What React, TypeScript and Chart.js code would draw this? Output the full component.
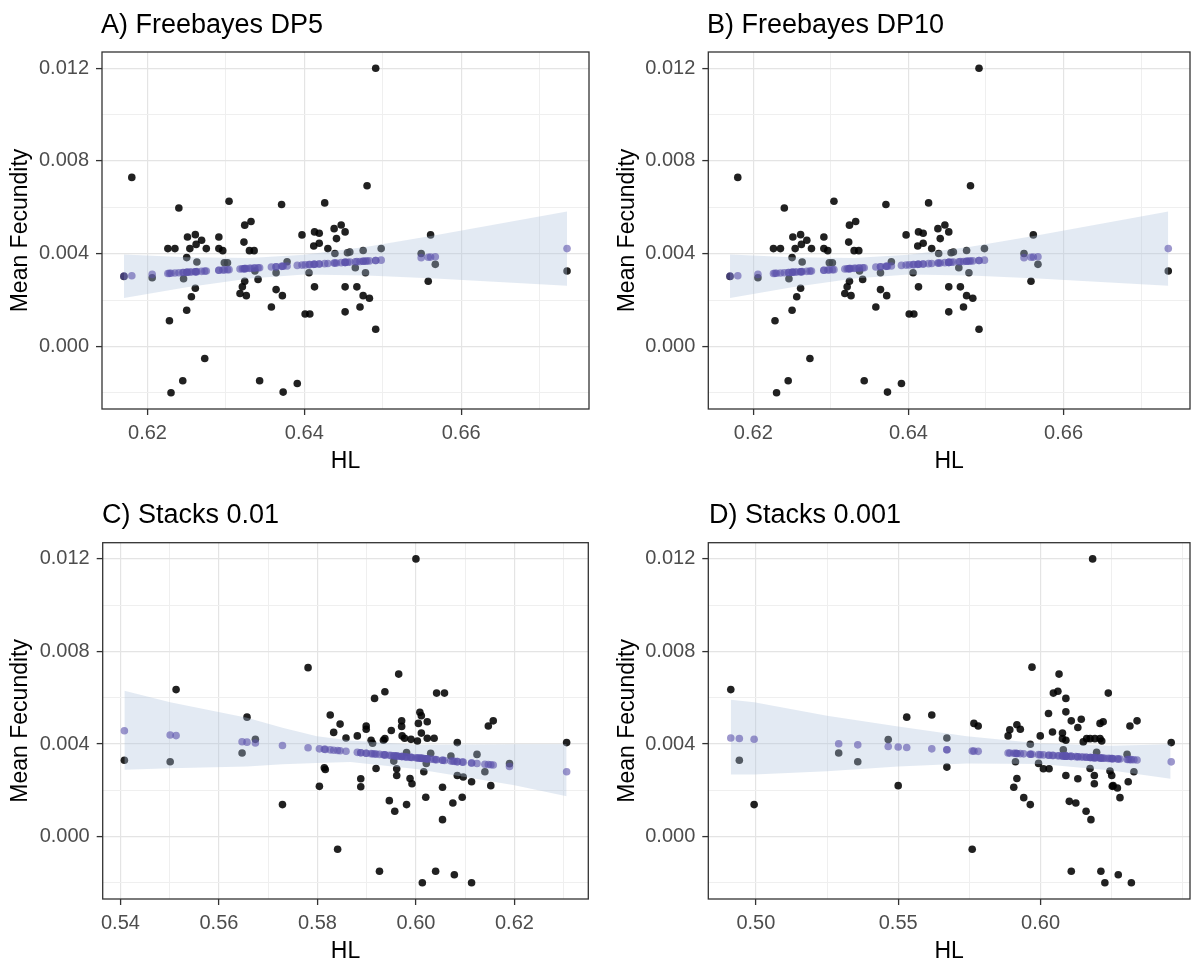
import React, { useEffect, useRef } from "react";
import { Chart, registerables } from "chart.js";
Chart.register(...registerables);

// ---------- Freebayes (DP5 and DP10 show the same values) ----------
const fbHL = [
  0.6180, 0.6240, 0.6304, 0.6371, 0.6426, 0.6226, 0.6235, 0.6251, 0.6261, 0.6269,
  0.6262, 0.6254, 0.6275, 0.6291, 0.6291, 0.6296, 0.6324, 0.6332, 0.6323, 0.6330,
  0.6336, 0.6397, 0.6413, 0.6419, 0.6412, 0.6419, 0.6430, 0.6438, 0.6447, 0.6452,
  0.6441, 0.6250, 0.6263, 0.6206, 0.6246, 0.6261, 0.6256, 0.6250, 0.6228, 0.6273,
  0.6245, 0.6230, 0.6298, 0.6302, 0.6324, 0.6321, 0.6318, 0.6326, 0.6341, 0.6337,
  0.6364, 0.6364, 0.6372, 0.6358, 0.6343, 0.6373, 0.6391, 0.6378, 0.6406, 0.6413,
  0.6401, 0.6407, 0.6452, 0.6452, 0.6455, 0.6439, 0.6491, 0.6480, 0.6561, 0.6458,
  0.6475, 0.6498, 0.6465, 0.6478, 0.6467, 0.6475, 0.6483, 0.6471, 0.6491, 0.6549,
  0.6567, 0.6558, 0.6735, 0.6170,
];
const fbFec = [
  0.00729, 0.00597, 0.00626, 0.00612, 0.00619, 0.00422, 0.00422, 0.00472, 0.00482, 0.00458,
  0.00440, 0.00422, 0.00422, 0.00472, 0.00422, 0.00413, 0.00523, 0.00539, 0.00450, 0.00413,
  0.00413, 0.00481, 0.00494, 0.00488, 0.00433, 0.00445, 0.00422, 0.00508, 0.00524, 0.00494,
  0.00465, 0.00383, 0.00364, 0.00296, 0.00292, 0.00251, 0.00214, 0.00156, 0.00111, -0.00052,
  -0.00148, -0.00200, 0.00361, 0.00361, 0.00281, 0.00257, 0.00228, 0.00219, 0.00289, 0.00325,
  0.00318, 0.00245, 0.00219, 0.00170, -0.00148, -0.00197, -0.00160, 0.00365, 0.00318, 0.00257,
  0.00140, 0.00140, 0.00257, 0.00149, 0.00404, 0.00401, 0.01200, 0.00693, 0.00481, 0.00407,
  0.00414, 0.00422, 0.00339, 0.00318, 0.00257, 0.00219, 0.00208, 0.00170, 0.00074, 0.00401,
  0.00354, 0.00281, 0.00325, 0.00302,
];
const fbFitHL = [0.617, 0.6735];
const fbFitFec = [0.00303, 0.00422];
const fbBandHL = [0.617, 0.625, 0.633, 0.640, 0.648, 0.6567, 0.6735];
const fbBandLo = [0.00209, 0.00255, 0.00293, 0.00310, 0.00306, 0.00293, 0.00262];
const fbBandHi = [0.00397, 0.00385, 0.00381, 0.00395, 0.00430, 0.00479, 0.00582];
const fbXTicks = [0.62, 0.63, 0.64, 0.65, 0.66, 0.67];
const fbXMajor = [0.62, 0.64, 0.66];

// ---------- Stacks 0.01 ----------
const s01HL = [
  0.5408, 0.5513, 0.5501, 0.5657, 0.5674, 0.5647, 0.5729, 0.5781, 0.5826, 0.5846,
  0.5833, 0.5858, 0.5814, 0.5816, 0.5804, 0.5841, 0.6000, 0.5965, 0.5916, 0.5937,
  0.6042, 0.6058, 0.5899, 0.5899, 0.5881, 0.5909, 0.5934, 0.5937, 0.5950, 0.5971,
  0.5971, 0.5972, 0.5977, 0.5990, 0.6003, 0.6008, 0.6011, 0.6005, 0.6023, 0.6011,
  0.6023, 0.6037, 0.6084, 0.6147, 0.6157, 0.6306, 0.6124, 0.6140, 0.6190, 0.5919,
  0.5961, 0.5961, 0.5988, 0.5992, 0.6016, 0.6084, 0.6096, 0.6113, 0.6152, 0.6054,
  0.5888, 0.5888, 0.5946, 0.5957, 0.5981, 0.6020, 0.6075, 0.6094, 0.6054, 0.5926,
  0.6013, 0.6040, 0.6078, 0.6113, 0.5912, 0.5955, 0.5981, 0.6030, 0.6071, 0.6021,
];
const s01Fec = [
  0.00330, 0.00635, 0.00323, 0.00516, 0.00420, 0.00361, 0.00138, 0.00730, 0.00525, 0.00486,
  0.00450, 0.00426, 0.00297, 0.00290, 0.00217, -0.00055, 0.01200, 0.00702, 0.00597, 0.00626,
  0.00620, 0.00620, 0.00478, 0.00464, 0.00435, 0.00416, 0.00416, 0.00423, 0.00458, 0.00500,
  0.00476, 0.00435, 0.00425, 0.00420, 0.00413, 0.00537, 0.00522, 0.00489, 0.00496, 0.00447,
  0.00425, 0.00425, 0.00406, 0.00478, 0.00500, 0.00406, 0.00355, 0.00280, 0.00315, 0.00294,
  0.00293, 0.00264, 0.00251, 0.00228, 0.00280, 0.00264, 0.00257, 0.00237, 0.00220, 0.00213,
  0.00250, 0.00215, 0.00155, 0.00109, 0.00138, 0.00170, 0.00145, 0.00170, 0.00073, -0.00150,
  -0.00200, -0.00150, -0.00165, -0.00200, 0.00403, 0.00326, 0.00363, 0.00360, 0.00348, 0.00316,
];
const s01FitHL = [0.5408, 0.6306];
const s01FitFec = [0.00457, 0.00280];
const s01BandHL = [0.5408, 0.5501, 0.5657, 0.5729, 0.5799, 0.5867, 0.600, 0.610, 0.620, 0.6306];
const s01BandLo = [0.00289, 0.00295, 0.00303, 0.00312, 0.00318, 0.00322, 0.00292, 0.00257, 0.00222, 0.00174];
const s01BandHi = [0.00630, 0.00580, 0.00513, 0.00470, 0.00433, 0.00415, 0.00397, 0.00398, 0.00399, 0.00399];
const s01XTicks = [0.54, 0.55, 0.56, 0.57, 0.58, 0.59, 0.60, 0.61, 0.62, 0.63];
const s01XMajor = [0.54, 0.56, 0.58, 0.60, 0.62];

// ---------- Stacks 0.001 ----------
const s001HL = [
  0.4912, 0.4942, 0.4994, 0.5291, 0.5358, 0.5465, 0.5530, 0.5618, 0.5500, 0.5671,
  0.5671, 0.6183, 0.5970, 0.6065, 0.6045, 0.6061, 0.6089, 0.6238, 0.6028, 0.6089,
  0.6108, 0.6143, 0.6131, 0.5766, 0.5781, 0.5917, 0.5929, 0.5892, 0.5886, 0.5999,
  0.6042, 0.6077, 0.6077, 0.6089, 0.6209, 0.6220, 0.6162, 0.6174, 0.6191, 0.6209,
  0.6215, 0.6150, 0.5964, 0.6314, 0.6339, 0.6459, 0.5912, 0.5993, 0.6010, 0.6030,
  0.5917, 0.5906, 0.5941, 0.5964, 0.6089, 0.6131, 0.6101, 0.6124, 0.6160, 0.6177,
  0.6174, 0.6189, 0.6189, 0.6244, 0.6250, 0.6255, 0.6270, 0.6252, 0.6279, 0.6308,
  0.6328, 0.5760, 0.6108, 0.6212, 0.6226, 0.6273, 0.6319, 0.6197, 0.6304, 0.6080,
];
const s001Fec = [
  0.00635, 0.00330, 0.00138, 0.00361, 0.00323, 0.00419, 0.00516, 0.00525, 0.00220, 0.00426,
  0.00300, 0.01200, 0.00732, 0.00702, 0.00620, 0.00628, 0.00597, 0.00620, 0.00532, 0.00539,
  0.00500, 0.00507, 0.00471, 0.00489, 0.00478, 0.00483, 0.00464, 0.00461, 0.00435, 0.00435,
  0.00452, 0.00447, 0.00423, 0.00416, 0.00489, 0.00496, 0.00423, 0.00423, 0.00423, 0.00423,
  0.00413, 0.00409, 0.00399, 0.00478, 0.00500, 0.00406, 0.00323, 0.00316, 0.00293, 0.00293,
  0.00251, 0.00213, 0.00168, 0.00138, 0.00264, 0.00250, 0.00152, 0.00145, 0.00109, 0.00073,
  0.00294, 0.00264, 0.00228, 0.00283, 0.00264, 0.00220, 0.00210, 0.00217, 0.00168, 0.00237,
  0.00280, -0.00055, -0.00150, -0.00150, -0.00200, -0.00165, -0.00200, 0.00364, 0.00355, 0.00375,
];
const s001FitHL = [0.4912, 0.6457];
const s001FitFec = [0.00426, 0.00323];
const s001BandHL = [0.4912, 0.4994, 0.525, 0.550, 0.5741, 0.600, 0.625, 0.6457];
const s001BandLo = [0.00268, 0.00268, 0.00282, 0.00303, 0.00316, 0.00314, 0.00285, 0.00250];
const s001BandHi = [0.00591, 0.00580, 0.00522, 0.00476, 0.00433, 0.00402, 0.00392, 0.00399];
const s001XTicks = [0.50, 0.525, 0.55, 0.575, 0.60, 0.625, 0.65];
const s001XMajor = [0.50, 0.55, 0.60];

// ---------- shared y axis ----------
const yTicks = [-0.002, 0, 0.002, 0.004, 0.006, 0.008, 0.010, 0.012];
const yMajor = [0, 0.004, 0.008, 0.012];
const yMin = -0.0027;
const yMax = 0.0127;

const FONT = "'Liberation Sans', Arial, sans-serif";

const isIn = (list: number[], v: number) => list.some((m) => Math.abs(m - v) < 1e-9);

type PanelProps = {
  title: string;
  hl: number[];
  fec: number[];
  fitHL: number[];
  fitFec: number[];
  bandHL: number[];
  bandLo: number[];
  bandHi: number[];
  xTicks: number[];
  xMajor: number[];
  xMin: number;
  xMax: number;
  geo: {
    left: number; top: number; w: number; h: number;
    L: number; T: number; R: number; B: number;
    titleX: number; titleY: number; yTitleX: number; xTitleY: number;
  };
};

function Panel(p: PanelProps) {
  const ref = useRef<HTMLCanvasElement | null>(null);
  useEffect(() => {
    if (!ref.current) return;
    const g = p.geo;
    const obs = p.hl.map((x, i) => ({ x, y: p.fec[i] }));
    const slope = (p.fitFec[1] - p.fitFec[0]) / (p.fitHL[1] - p.fitHL[0]);
    const fitted = p.hl.map((x) => ({ x, y: p.fitFec[0] + slope * (x - p.fitHL[0]) }));
    const upper = p.bandHL.map((x, i) => ({ x, y: p.bandHi[i] }));
    const lower = p.bandHL.map((x, i) => ({ x, y: p.bandLo[i] }));

    const decor = {
      id: "decor",
      afterDatasetsDraw(chart: any) {
        const { ctx, chartArea: a } = chart;
        ctx.save();
        ctx.strokeStyle = "#333333";
        ctx.lineWidth = 1.3;
        ctx.strokeRect(a.left, a.top, a.right - a.left, a.bottom - a.top);
        ctx.restore();
      },
      afterDraw(chart: any) {
        const { ctx, chartArea: a } = chart;
        ctx.save();
        ctx.fillStyle = "#000000";
        ctx.font = `27px ${FONT}`;
        ctx.textAlign = "left";
        ctx.textBaseline = "alphabetic";
        ctx.fillText(p.title, g.titleX, g.titleY);
        ctx.font = `23px ${FONT}`;
        ctx.textAlign = "center";
        ctx.textBaseline = "middle";
        ctx.fillText("HL", (a.left + a.right) / 2, g.xTitleY);
        ctx.translate(g.yTitleX, (a.top + a.bottom) / 2);
        ctx.rotate(-Math.PI / 2);
        ctx.fillText("Mean Fecundity", 0, 0);
        ctx.restore();
      },
    };

    const chart = new Chart(ref.current, {
      type: "scatter",
      data: {
        datasets: [
          {
            type: "scatter",
            label: "fitted",
            data: fitted,
            backgroundColor: "rgba(92,82,172,0.6)",
            borderWidth: 0,
            pointRadius: 3.8,
            order: 0,
          },
          {
            type: "line",
            label: "upper",
            data: upper,
            fill: "+1",
            backgroundColor: "rgba(176,196,222,0.35)",
            borderColor: "rgba(0,0,0,0)",
            borderWidth: 0,
            pointRadius: 0,
            tension: 0,
            order: 1,
          },
          {
            type: "line",
            label: "lower",
            data: lower,
            fill: false,
            borderColor: "rgba(0,0,0,0)",
            borderWidth: 0,
            pointRadius: 0,
            tension: 0,
            order: 1,
          },
          {
            type: "scatter",
            label: "observed",
            data: obs,
            backgroundColor: "rgba(0,0,0,0.87)",
            borderWidth: 0,
            pointRadius: 3.8,
            order: 2,
          },
        ] as any,
      },
      options: {
        animation: false,
        responsive: false,
        maintainAspectRatio: false,
        layout: { padding: { left: 0, top: g.T, right: g.w - g.R, bottom: 0 } },
        plugins: { legend: { display: false }, tooltip: { enabled: false }, title: { display: false } },
        scales: {
          x: {
            type: "linear",
            min: p.xMin,
            max: p.xMax,
            afterBuildTicks: (s: any) => {
              s.ticks = p.xTicks.map((v) => ({ value: v }));
            },
            afterFit: (s: any) => {
              s.height = g.h - g.B;
            },
            ticks: {
              autoSkip: false,
              maxRotation: 0,
              minRotation: 0,
              padding: 6,
              color: "#4d4d4d",
              font: { family: FONT, size: 20 },
              callback: (v: any) => (isIn(p.xMajor, Number(v)) ? Number(v).toFixed(2) : ""),
            },
            grid: {
              color: (c: any) => (isIn(p.xMajor, c.tick?.value) ? "#e4e4e4" : "#efefef"),
              lineWidth: (c: any) => (isIn(p.xMajor, c.tick?.value) ? 1.2 : 1),
              tickLength: 6,
              tickWidth: 1.3,
              tickColor: (c: any) => (isIn(p.xMajor, c.tick?.value) ? "#333333" : "rgba(0,0,0,0)"),
            },
            border: { display: false },
          },
          y: {
            type: "linear",
            min: yMin,
            max: yMax,
            afterBuildTicks: (s: any) => {
              s.ticks = yTicks.map((v) => ({ value: v }));
            },
            afterFit: (s: any) => {
              s.width = g.L;
            },
            ticks: {
              autoSkip: false,
              padding: 7,
              color: "#4d4d4d",
              font: { family: FONT, size: 20 },
              callback: (v: any) => (isIn(yMajor, Number(v)) ? Number(v).toFixed(3) : ""),
            },
            grid: {
              color: (c: any) => (isIn(yMajor, c.tick?.value) ? "#e4e4e4" : "#efefef"),
              lineWidth: (c: any) => (isIn(yMajor, c.tick?.value) ? 1.2 : 1),
              tickLength: 6,
              tickWidth: 1.3,
              tickColor: (c: any) => (isIn(yMajor, c.tick?.value) ? "#333333" : "rgba(0,0,0,0)"),
            },
            border: { display: false },
          },
        },
      } as any,
      plugins: [decor],
    });
    return () => chart.destroy();
  }, []);

  const g = p.geo;
  return (
    <canvas
      ref={ref}
      width={g.w}
      height={g.h}
      style={{ position: "absolute", left: g.left, top: g.top, width: g.w, height: g.h }}
    />
  );
}

export default function App() {
  return (
    <div style={{ position: "absolute", left: 0, top: 0, width: 1194, height: 968, background: "#ffffff" }}>
      <Panel
        title="A) Freebayes DP5"
        hl={fbHL} fec={fbFec} fitHL={fbFitHL} fitFec={fbFitFec}
        bandHL={fbBandHL} bandLo={fbBandLo} bandHi={fbBandHi}
        xTicks={fbXTicks} xMajor={fbXMajor} xMin={0.6142} xMax={0.6763}
        geo={{ left: 0, top: 0, w: 600, h: 484, L: 102, T: 52, R: 589, B: 409, titleX: 101, titleY: 33, yTitleX: 21, xTitleY: 462 }}
      />
      <Panel
        title="B) Freebayes DP10"
        hl={fbHL} fec={fbFec} fitHL={fbFitHL} fitFec={fbFitFec}
        bandHL={fbBandHL} bandLo={fbBandLo} bandHi={fbBandHi}
        xTicks={fbXTicks} xMajor={fbXMajor} xMin={0.6142} xMax={0.6763}
        geo={{ left: 600, top: 0, w: 594, h: 484, L: 108.3, T: 52, R: 592, B: 409, titleX: 107, titleY: 33, yTitleX: 28, xTitleY: 462 }}
      />
      <Panel
        title="C) Stacks 0.01"
        hl={s01HL} fec={s01Fec} fitHL={s01FitHL} fitFec={s01FitFec}
        bandHL={s01BandHL} bandLo={s01BandLo} bandHi={s01BandHi}
        xTicks={s01XTicks} xMajor={s01XMajor} xMin={0.5364} xMax={0.6350}
        geo={{ left: 0, top: 484, w: 600, h: 484, L: 102.7, T: 58.7, R: 588.3, B: 415, titleX: 102, titleY: 39, yTitleX: 21, xTitleY: 468 }}
      />
      <Panel
        title="D) Stacks 0.001"
        hl={s001HL} fec={s001Fec} fitHL={s001FitHL} fitFec={s001FitFec}
        bandHL={s001BandHL} bandLo={s001BandLo} bandHi={s001BandHi}
        xTicks={s001XTicks} xMajor={s001XMajor} xMin={0.4833} xMax={0.6525}
        geo={{ left: 600, top: 484, w: 594, h: 484, L: 108.3, T: 58.7, R: 592, B: 415, titleX: 109, titleY: 39, yTitleX: 28, xTitleY: 468 }}
      />
    </div>
  );
}
